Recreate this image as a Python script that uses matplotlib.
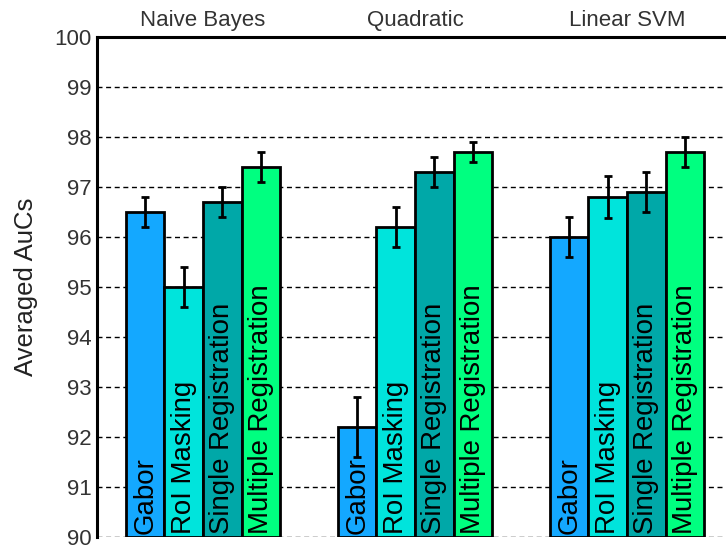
import numpy as np
import matplotlib
matplotlib.use("Agg")
import matplotlib.pyplot as plt

plt.rcParams['font.family'] = ['Liberation Sans', 'DejaVu Sans']

classifiers = ["Naive Bayes", "Quadratic", "Linear SVM"]
methods = ["Gabor", "RoI Masking", "Single Registration", "Multiple Registration"]
method_labels = ["Gabor", "RoI Masking", "Single Registration", "Multiple Registration"]
colors = ["#14a8ff", "#00e4dc", "#00a8a8", "#00ff80"]

# mean AUC per classifier (rows) and method (columns)
auc_gabor = [96.5, 92.2, 96.0]
auc_roi = [95.0, 96.2, 96.8]
auc_single = [96.7, 97.3, 96.9]
auc_multi = [97.4, 97.7, 97.7]

err_gabor = [0.3, 0.6, 0.4]
err_roi = [0.4, 0.4, 0.42]
err_single = [0.3, 0.3, 0.4]
err_multi = [0.3, 0.2, 0.3]

means = [auc_gabor, auc_roi, auc_single, auc_multi]
errs = [err_gabor, err_roi, err_single, err_multi]

yticks = list(range(90, 101))

fig = plt.figure(figsize=(7.26, 5.47), dpi=100)
ax = fig.add_axes([97 / 726, 10 / 547, 636 / 726, 500 / 547])

x = np.arange(1, len(classifiers) + 1)
n = len(methods)
group_w = min(0.8, n / (n + 1.5))
bw = group_w / n

for i in range(n):
    xi = x - group_w / 2 + bw * (i + 0.5)
    ax.bar(xi, np.array(means[i]) - 90, bottom=90, width=bw, color=colors[i],
           edgecolor="black", linewidth=2, zorder=2)
    ax.errorbar(xi, means[i], yerr=errs[i], fmt="none", ecolor="black",
                elinewidth=2, capsize=3, capthick=2, zorder=3)
    for xx in xi:
        ax.text(xx, 90.06, method_labels[i], rotation=90, ha="center", va="bottom",
                fontsize=19.9, color="black", zorder=4)

for xc, name in zip(x, classifiers):
    ax.text(xc, 100.12, name, ha="center", va="bottom", fontsize=16,
            color="#333333", clip_on=False)

ax.set_xlim(0.5, 3.5)
ax.set_ylim(90, 100)
ax.set_yticks(yticks)
ax.set_yticklabels([str(t) for t in yticks], fontsize=16, color="#333333")
ax.set_xticks([])
ax.tick_params(axis="y", length=0, pad=4)
ax.yaxis.grid(True, linestyle=(0, (3.6, 2.6)), color="black", linewidth=1, zorder=0)
ax.set_axisbelow(True)
ax.spines["bottom"].set_visible(False)
ax.spines["right"].set_visible(False)
ax.spines["left"].set_linewidth(2.2)
ax.spines["top"].set_linewidth(2.2)
ax.set_ylabel("Averaged AuCs", fontsize=18.5, color="#222222", labelpad=12)

fig.savefig("out.png", dpi=100)
